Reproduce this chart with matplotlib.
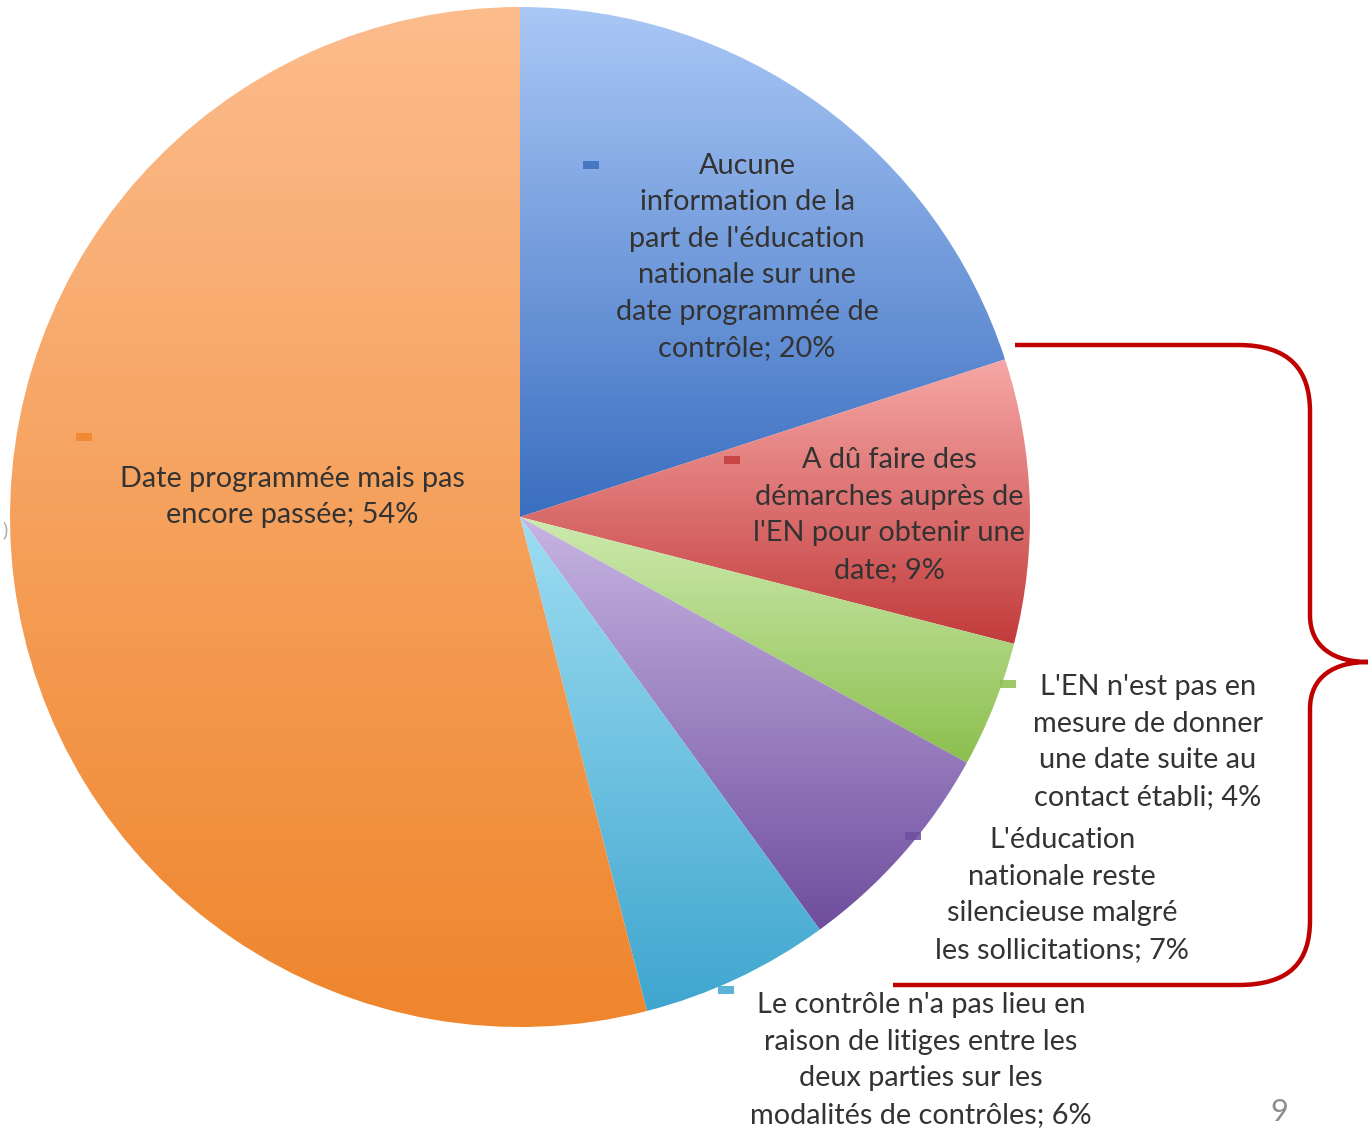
import numpy as np
import matplotlib
matplotlib.use("Agg")
import matplotlib.pyplot as plt
from matplotlib.path import Path
from matplotlib.patches import PathPatch, Rectangle
from matplotlib.colors import LinearSegmentedColormap

# ---- data ----
categories = [
    "Aucune\ninformation de la\npart de l'éducation\nnationale sur une\ndate programmée de\ncontrôle",
    "A dû faire des\ndémarches auprès de\nl'EN pour obtenir une\ndate",
    "L'EN n'est pas en\nmesure de donner\nune date suite au\ncontact établi",
    "L'éducation\nnationale reste\nsilencieuse malgré\nles sollicitations",
    "Le contrôle n'a pas lieu en\nraison de litiges entre les\ndeux parties sur les\nmodalités de contrôles",
    "Date programmée mais pas\nencore passée",
]
values = [20, 9, 4, 7, 6, 54]
top_colors = ["#AAC8F6", "#F6A8A6", "#CDEAAE", "#C7B4E2", "#9EDDF2", "#FCBC8C"]
bottom_colors = ["#3A6EC0", "#C23B3B", "#8CBF4E", "#6E4E9E", "#3FA6CF", "#EF852C"]

W, H = 1372, 1131
fig = plt.figure(figsize=(W / 100, H / 100), dpi=100)
ax = fig.add_axes([0, 0, 1, 1])
fig.patch.set_facecolor("white")

def fy(y):
    return H - y

cx, cy, R = 520, fy(517), 510
wedges, _ = ax.pie(values, startangle=90, counterclock=False, radius=R,
                   center=(cx, cy), frame=True,
                   wedgeprops=dict(linewidth=0, edgecolor="none"))
ax.set_xlim(0, W)
ax.set_ylim(0, H)
ax.set_aspect("equal")
ax.axis("off")

# gradient fills clipped to each wedge
for w, c0, c1 in zip(wedges, top_colors, bottom_colors):
    w.set_facecolor("none")
    verts = w.get_path().vertices
    x0, x1 = verts[:, 0].min(), verts[:, 0].max()
    y0, y1 = verts[:, 1].min(), verts[:, 1].max()
    cmap = LinearSegmentedColormap.from_list("g", [c1, c0])
    grad = np.linspace(0, 1, 256).reshape(-1, 1)
    im = ax.imshow(grad, extent=(x0, x1, y0, y1), origin="lower", cmap=cmap,
                   aspect="auto", zorder=1, interpolation="bilinear")
    im.set_clip_path(w)
ax.set_xlim(0, W)
ax.set_ylim(0, H)

font = "Lato"
fs = 20.8
label_pos = [(747, 257), (889, 515), (1148, 742), (1062, 895), (921, 1060), (292, 497)]
marker_pos = [(591, 165), (732, 460), (1008, 684), (913, 836), (726, 990), (84, 437)]
for cat, v, (lx, ly), (mx, my), c0, c1 in zip(categories, values, label_pos,
                                              marker_pos, top_colors, bottom_colors):
    ax.text(lx, fy(ly), f"{cat}; {v}%", ha="center", va="center",
            multialignment="center", fontsize=fs, family=font,
            color="#333333", linespacing=1.5, zorder=5)
    ax.add_patch(Rectangle((mx - 8, fy(my) - 4), 16, 8, facecolor=c1,
                           edgecolor="none", alpha=0.85, zorder=5))

# red brace
pts = [(1015, 345), (1238, 345),
       (1290, 345), (1310, 370), (1310, 412),
       (1310, 615),
       (1310, 648), (1335, 662), (1368, 662),
       (1335, 662), (1310, 676), (1310, 709),
       (1310, 920),
       (1310, 962), (1290, 985), (1238, 985),
       (893, 985)]
codes = [Path.MOVETO, Path.LINETO,
         Path.CURVE4, Path.CURVE4, Path.CURVE4,
         Path.LINETO,
         Path.CURVE4, Path.CURVE4, Path.CURVE4,
         Path.CURVE4, Path.CURVE4, Path.CURVE4,
         Path.LINETO,
         Path.CURVE4, Path.CURVE4, Path.CURVE4,
         Path.LINETO]
path = Path([(x, fy(y)) for x, y in pts], codes)
ax.add_patch(PathPatch(path, facecolor="none", edgecolor="#C00000",
                       linewidth=3.2, zorder=6, capstyle="butt"))

ax.text(1279, fy(1112), "9", ha="center", va="center", fontsize=22,
        family=font, color="#8C8C8C")
ax.text(5, fy(530), ")", ha="center", va="center", fontsize=14,
        family=font, color="#AAAAAA")

fig.savefig("out.png", dpi=100, facecolor="white")
